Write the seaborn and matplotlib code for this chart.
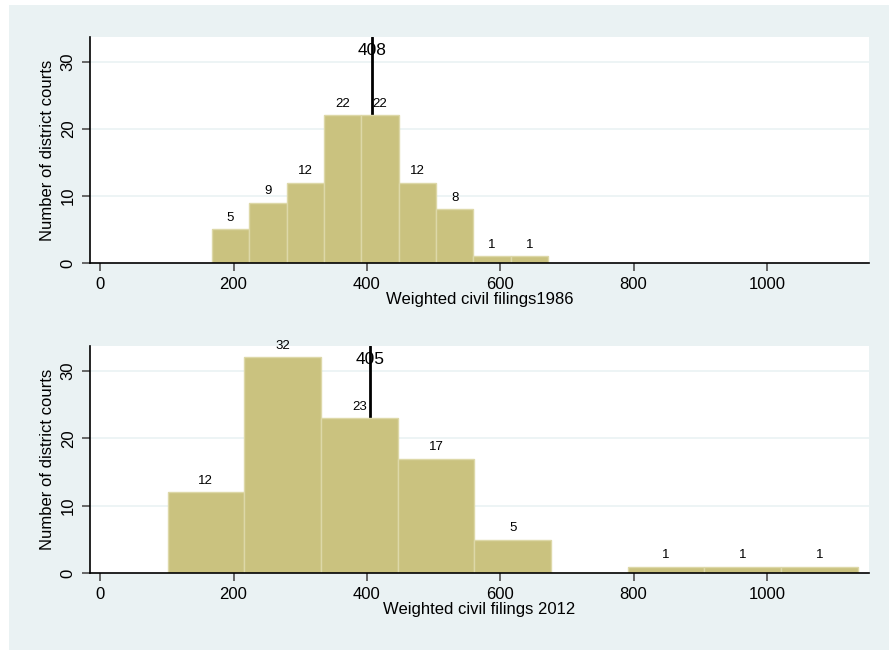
import matplotlib.pyplot as plt
import matplotlib.patches as mpatches
import numpy as np
import pandas as pd
import seaborn as sns

# bin edges and counts
edges_1986 = [167.5, 223.5, 279.5, 335.5, 391.5, 447.5, 503.5, 559.5, 615.5, 671.5]
counts_1986 = [5, 9, 12, 22, 22, 12, 8, 1, 1]
median_1986 = 408

edges_2012 = [101, 216, 331, 446, 561, 676, 791, 906, 1021, 1136]
counts_2012 = [12, 32, 23, 17, 5, 0, 1, 1, 1]
median_2012 = 405

x_ticks = [0, 200, 400, 600, 800, 1000]
y_ticks = [0, 10, 20, 30]

BG = '#EAF2F3'
BAR = '#CAC27F'
EDGE = '#DDD8A8'

sns.set_theme(style='white')
plt.rcParams['font.family'] = ['Liberation Sans', 'DejaVu Sans']
plt.rcParams['text.color'] = 'black'
plt.rcParams['axes.labelcolor'] = 'black'
plt.rcParams['xtick.color'] = 'black'
plt.rcParams['ytick.color'] = 'black'

fig = plt.figure(figsize=(8.89, 6.5), dpi=100)
fig.patch.set_facecolor('white')
fig.patches.append(mpatches.Rectangle((9 / 889, 0), 880 / 889, 645 / 650,
                                      transform=fig.transFigure, facecolor=BG,
                                      edgecolor='none', zorder=-10))

ax_top = fig.add_axes([0.1007, 0.5954, 0.8768, 0.3476])
ax_bot = fig.add_axes([0.1007, 0.118, 0.8768, 0.3497])


def draw_panel(ax, edges, counts, median, xlabel):
    mids = [(edges[i] + edges[i + 1]) / 2 for i in range(len(counts))]
    df = pd.DataFrame({'mid': mids, 'n': counts})
    ax.axvline(median, color='black', lw=2, zorder=1)
    sns.histplot(data=df, x='mid', weights='n', bins=edges, ax=ax,
                 color=BAR, edgecolor=EDGE, linewidth=1, alpha=1, zorder=2)
    labels = [str(c) if c > 0 else '' for c in counts]
    ax.bar_label(ax.containers[0], labels=labels, padding=4, fontsize=9.5)
    ax.text(median, 31.7, str(median), ha='center', va='center', fontsize=12.5, zorder=3)

    ax.set_xlim(-16, 1153)
    ax.set_ylim(0, 33.7)
    ax.set_xticks(x_ticks)
    ax.set_yticks(y_ticks)
    ax.set_yticklabels([str(t) for t in y_ticks], rotation=90, va='center')
    ax.tick_params(axis='both', labelsize=12, length=6, color='#555555',
                   labelcolor='black', direction='out', bottom=True, left=True, pad=4)
    ax.set_xlabel(xlabel, fontsize=12, labelpad=0)
    ax.set_ylabel('Number of district courts', fontsize=12, labelpad=4)
    ax.set_facecolor('white')
    for y in y_ticks[1:]:
        ax.axhline(y, color=BG, lw=1.2, zorder=0)
    for s in ['top', 'right']:
        ax.spines[s].set_visible(False)
    for s in ['left', 'bottom']:
        ax.spines[s].set_color('black')
        ax.spines[s].set_linewidth(1.2)


draw_panel(ax_top, edges_1986, counts_1986, median_1986, 'Weighted civil filings1986')
draw_panel(ax_bot, edges_2012, counts_2012, median_2012, 'Weighted civil filings 2012')

fig.savefig('out.png', dpi=100)
